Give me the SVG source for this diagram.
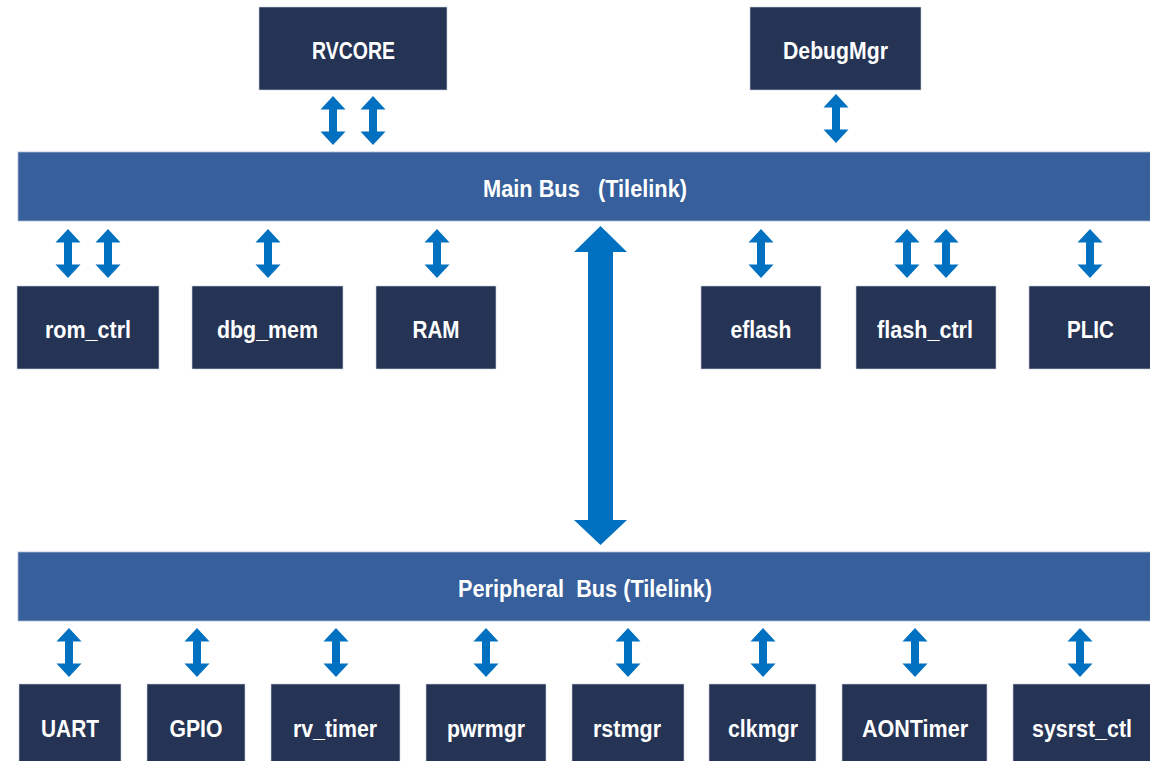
<svg xmlns="http://www.w3.org/2000/svg" xmlns:xlink="http://www.w3.org/1999/xlink" width="1150" height="761" viewBox="0 0 1150 761">
  <style>
    .blk { fill: #253354; stroke: #c9cfdb; stroke-width: 0.6; }
    .bus { fill: #365F9B; stroke: #a9b9d3; stroke-width: 0.8; }
    .lbl { font-family: "Liberation Sans", Arial, sans-serif; font-weight: bold; font-size: 23px; fill: #ffffff; text-anchor: middle; }
    .buslbl { font-family: "Liberation Sans", Arial, sans-serif; font-weight: bold; font-size: 24px; fill: #ffffff; text-anchor: middle; }
    .arr { fill: #0070C0; }
  </style>
  <defs>
    <!-- small double-headed vertical arrow, 49px tall, anchored at top centre -->
    <path id="dbl" d="M0,0 L12.5,13.5 L4,13.5 L4,35.5 L12.5,35.5 L0,49 L-12.5,35.5 L-4,35.5 L-4,13.5 L-12.5,13.5 Z"/>
  </defs>

  <rect width="1150" height="761" fill="#ffffff"/>

  <!-- buses -->
  <g id="main-bus">
    <rect class="bus" x="18" y="152" width="1140" height="69"/>
    <text class="buslbl" x="585" y="197" textLength="204" lengthAdjust="spacingAndGlyphs" xml:space="preserve">Main Bus   (Tilelink)</text>
  </g>
  <g id="peripheral-bus">
    <rect class="bus" x="18" y="552" width="1140" height="69"/>
    <text class="buslbl" x="585" y="597" textLength="254" lengthAdjust="spacingAndGlyphs" xml:space="preserve">Peripheral  Bus (Tilelink)</text>
  </g>

  <!-- bus masters -->
  <g id="rvcore">
    <rect class="blk" x="259" y="7" width="188" height="83"/>
    <text class="lbl" x="353.5" y="59" textLength="83" lengthAdjust="spacingAndGlyphs">RVCORE</text>
  </g>
  <g id="debugmgr">
    <rect class="blk" x="750" y="7" width="171" height="83"/>
    <text class="lbl" x="835.5" y="59" textLength="105" lengthAdjust="spacingAndGlyphs">DebugMgr</text>
  </g>

  <!-- main bus devices -->
  <g id="rom_ctrl">
    <rect class="blk" x="17" y="286" width="142" height="83"/>
    <text class="lbl" x="88" y="338" textLength="86" lengthAdjust="spacingAndGlyphs">rom_ctrl</text>
  </g>
  <g id="dbg_mem">
    <rect class="blk" x="192" y="286" width="151" height="83"/>
    <text class="lbl" x="267.5" y="338" textLength="101" lengthAdjust="spacingAndGlyphs">dbg_mem</text>
  </g>
  <g id="ram">
    <rect class="blk" x="376" y="286" width="120" height="83"/>
    <text class="lbl" x="436" y="338" textLength="47" lengthAdjust="spacingAndGlyphs">RAM</text>
  </g>
  <g id="eflash">
    <rect class="blk" x="701" y="286" width="120" height="83"/>
    <text class="lbl" x="761" y="338" textLength="61" lengthAdjust="spacingAndGlyphs">eflash</text>
  </g>
  <g id="flash_ctrl">
    <rect class="blk" x="856" y="286" width="140" height="83"/>
    <text class="lbl" x="925" y="338" textLength="96" lengthAdjust="spacingAndGlyphs">flash_ctrl</text>
  </g>
  <g id="plic">
    <rect class="blk" x="1029" y="286" width="130" height="83"/>
    <text class="lbl" x="1090.5" y="338" textLength="47" lengthAdjust="spacingAndGlyphs">PLIC</text>
  </g>

  <!-- peripheral bus devices -->
  <g id="uart">
    <rect class="blk" x="19" y="684" width="102" height="85"/>
    <text class="lbl" x="70" y="737" textLength="58" lengthAdjust="spacingAndGlyphs">UART</text>
  </g>
  <g id="gpio">
    <rect class="blk" x="147" y="684" width="98" height="85"/>
    <text class="lbl" x="196" y="737" textLength="53" lengthAdjust="spacingAndGlyphs">GPIO</text>
  </g>
  <g id="rv_timer">
    <rect class="blk" x="271" y="684" width="129" height="85"/>
    <text class="lbl" x="335" y="737" textLength="84" lengthAdjust="spacingAndGlyphs">rv_timer</text>
  </g>
  <g id="pwrmgr">
    <rect class="blk" x="426" y="684" width="120" height="85"/>
    <text class="lbl" x="486" y="737" textLength="78" lengthAdjust="spacingAndGlyphs">pwrmgr</text>
  </g>
  <g id="rstmgr">
    <rect class="blk" x="572" y="684" width="112" height="85"/>
    <text class="lbl" x="627" y="737" textLength="68" lengthAdjust="spacingAndGlyphs">rstmgr</text>
  </g>
  <g id="clkmgr">
    <rect class="blk" x="709" y="684" width="107" height="85"/>
    <text class="lbl" x="763" y="737" textLength="70" lengthAdjust="spacingAndGlyphs">clkmgr</text>
  </g>
  <g id="aontimer">
    <rect class="blk" x="842" y="684" width="145" height="85"/>
    <text class="lbl" x="915" y="737" textLength="106" lengthAdjust="spacingAndGlyphs">AONTimer</text>
  </g>
  <g id="sysrst_ctl">
    <rect class="blk" x="1013" y="684" width="146" height="85"/>
    <text class="lbl" x="1082" y="737" textLength="100" lengthAdjust="spacingAndGlyphs">sysrst_ctl</text>
  </g>

  <!-- connectors -->
  <g id="connectors" class="arr">
    <!-- masters to main bus -->
    <use xlink:href="#dbl" href="#dbl" transform="translate(333,96)"/>
    <use xlink:href="#dbl" href="#dbl" transform="translate(373,96)"/>
    <use xlink:href="#dbl" href="#dbl" transform="translate(836,94)"/>
    <!-- main bus to devices -->
    <use xlink:href="#dbl" href="#dbl" transform="translate(68,229)"/>
    <use xlink:href="#dbl" href="#dbl" transform="translate(108,229)"/>
    <use xlink:href="#dbl" href="#dbl" transform="translate(268,229)"/>
    <use xlink:href="#dbl" href="#dbl" transform="translate(437,229)"/>
    <use xlink:href="#dbl" href="#dbl" transform="translate(761,229)"/>
    <use xlink:href="#dbl" href="#dbl" transform="translate(907,229)"/>
    <use xlink:href="#dbl" href="#dbl" transform="translate(946,229)"/>
    <use xlink:href="#dbl" href="#dbl" transform="translate(1090,229)"/>
    <!-- main bus to peripheral bus bridge -->
    <path d="M600.5,226 L627,252 L613,252 L613,520 L627,520 L600.5,545 L574,520 L588,520 L588,252 L574,252 Z"/>
    <!-- peripheral bus to devices -->
    <use xlink:href="#dbl" href="#dbl" transform="translate(69,628)"/>
    <use xlink:href="#dbl" href="#dbl" transform="translate(197,628)"/>
    <use xlink:href="#dbl" href="#dbl" transform="translate(336,628)"/>
    <use xlink:href="#dbl" href="#dbl" transform="translate(486,628)"/>
    <use xlink:href="#dbl" href="#dbl" transform="translate(628,628)"/>
    <use xlink:href="#dbl" href="#dbl" transform="translate(763,628)"/>
    <use xlink:href="#dbl" href="#dbl" transform="translate(915,628)"/>
    <use xlink:href="#dbl" href="#dbl" transform="translate(1080,628)"/>
  </g>
</svg>
